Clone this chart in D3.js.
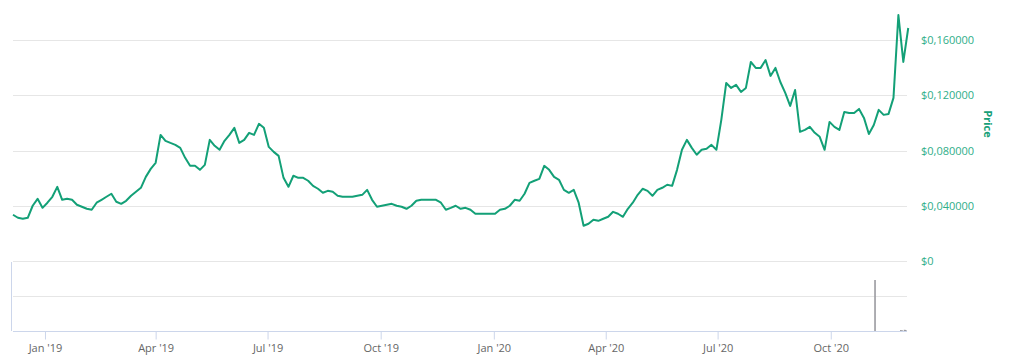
<!DOCTYPE html>
<html>
<head>
<meta charset="utf-8">
<script src="https://cdn.jsdelivr.net/npm/d3@7"></script>
<style>
  body { margin: 0; background: #fff; }
  svg { display: block; font-family: "Open Sans", sans-serif; }
</style>
</head>
<body>
<div id="chart"></div>
<script>
// Price series: one value every 4 days from 6 Dec 2018
const startDate = "2018-12-06";
const stepDays = 4;
const prices = [
  0.0335, 0.0313, 0.0306, 0.0313, 0.0400, 0.0450, 0.0385, 0.0422, 0.0465, 0.0537,
  0.0443, 0.0450, 0.0443, 0.0407, 0.0393, 0.0378, 0.0371, 0.0422, 0.0443, 0.0465,
  0.0487, 0.0429, 0.0414, 0.0436, 0.0472, 0.0501, 0.0530, 0.0609, 0.0667, 0.0711,
  0.0913, 0.0870, 0.0855, 0.0841, 0.0819, 0.0747, 0.0689, 0.0689, 0.0660, 0.0696,
  0.0877, 0.0834, 0.0805, 0.0870, 0.0913, 0.0964, 0.0855, 0.0877, 0.0928, 0.0913,
  0.0993, 0.0964, 0.0826, 0.0790, 0.0761, 0.0602, 0.0537, 0.0617, 0.0602, 0.0602,
  0.0581, 0.0544, 0.0523, 0.0494, 0.0508, 0.0501, 0.0472, 0.0465, 0.0465, 0.0465,
  0.0472, 0.0479, 0.0515, 0.0443, 0.0393, 0.0400, 0.0407, 0.0414, 0.0400, 0.0393,
  0.0378, 0.0400, 0.0436, 0.0443, 0.0443, 0.0443, 0.0443, 0.0422, 0.0371, 0.0385,
  0.0400, 0.0378, 0.0385, 0.0371, 0.0342, 0.0342, 0.0342, 0.0342, 0.0342, 0.0371,
  0.0378, 0.0400, 0.0443, 0.0436, 0.0487, 0.0566, 0.0581, 0.0595, 0.0689, 0.0660,
  0.0609, 0.0588, 0.0515, 0.0494, 0.0515, 0.0422, 0.0255, 0.0270, 0.0299, 0.0291,
  0.0306, 0.0320, 0.0356, 0.0342, 0.0320, 0.0378, 0.0422, 0.0479, 0.0523, 0.0508,
  0.0472, 0.0515, 0.0530, 0.0552, 0.0544, 0.0660, 0.0805, 0.0877, 0.0819, 0.0769,
  0.0805, 0.0812, 0.0841, 0.0805, 0.1022, 0.1289, 0.1253, 0.1275, 0.1224, 0.1253,
  0.1441, 0.1398, 0.1398, 0.1455, 0.1340, 0.1398, 0.1296, 0.1217, 0.1123, 0.1238,
  0.0935, 0.0949, 0.0971, 0.0928, 0.0899, 0.0805, 0.1007, 0.0971, 0.0949, 0.1079,
  0.1072, 0.1072, 0.1101, 0.1036, 0.0920, 0.0985, 0.1094, 0.1058, 0.1065, 0.1181,
  0.1781, 0.1441, 0.1687
];

// Volume bars (lower panel)
const volumeDates = ["2020-11-06", "2020-11-27", "2020-11-28", "2020-11-30", "2020-12-01"];
const volumeValues = [1460000, 30000, 25000, 35000, 30000];

const priceTicks = [0, 0.04, 0.08, 0.12, 0.16];
const volumeTicks = [0, 1000000, 2000000];
const xTickDates = ["2019-01-01", "2019-04-01", "2019-07-01", "2019-10-01",
                    "2020-01-01", "2020-04-01", "2020-07-01", "2020-10-01"];

const width = 1024, height = 355;
const plotLeft = 13, plotRight = 907;
const priceTop = 40, priceBottom = 261;
const volTop = 261, volBottom = 331;

const parse = d3.utcParse("%Y-%m-%d");
const t0 = parse(startDate);
const series = prices.map((p, i) => ({ date: d3.utcDay.offset(t0, i * stepDays), price: p }));

const x = d3.scaleUtc()
  .domain([parse("2018-12-06"), parse("2020-12-02")])
  .range([plotLeft, plotRight]);
const y = d3.scaleLinear().domain([0, 0.16]).range([priceBottom, priceTop]);
const yVol = d3.scaleLinear().domain([0, 2000000]).range([volBottom, volTop]);

const svg = d3.select("#chart").append("svg")
  .attr("width", width).attr("height", height);

// price gridlines
svg.append("g").selectAll("line").data(priceTicks).join("line")
  .attr("x1", plotLeft).attr("x2", plotRight)
  .attr("y1", d => Math.round(y(d)) + 0.5).attr("y2", d => Math.round(y(d)) + 0.5)
  .attr("stroke", "#e6e6e6");

// volume gridlines
svg.append("g").selectAll("line").data(volumeTicks.slice(1)).join("line")
  .attr("x1", plotLeft).attr("x2", plotRight)
  .attr("y1", d => Math.round(yVol(d)) + 0.5).attr("y2", d => Math.round(yVol(d)) + 0.5)
  .attr("stroke", "#e6e6e6");

// left border of volume pane
svg.append("line")
  .attr("x1", 11.5).attr("x2", 11.5).attr("y1", volTop + 1).attr("y2", volBottom)
  .attr("stroke", "#ccd6eb");

// right price axis labels
const fmt = d => d === 0 ? "$0" : "$" + d3.format(".6f")(d).replace(".", ",");
svg.append("g").selectAll("text").data(priceTicks).join("text")
  .attr("x", 921).attr("y", d => y(d) + 4)
  .attr("font-size", 11).attr("fill", "#2fae89")
  .text(fmt);

svg.append("text")
  .attr("transform", "translate(984,124) rotate(90)")
  .attr("text-anchor", "middle")
  .attr("font-size", 11).attr("font-weight", "bold").attr("fill", "#17a078")
  .text("Price");

// volume bars
svg.append("g").selectAll("line").data(volumeDates.map((d, i) => ({ date: parse(d), v: volumeValues[i] })))
  .join("line")
  .attr("x1", d => x(d.date)).attr("x2", d => x(d.date))
  .attr("y1", volBottom).attr("y2", d => yVol(d.v))
  .attr("stroke", "#9a9aa0").attr("stroke-width", 1.6);

// bottom axis
const xAxis = d3.axisBottom(x)
  .tickValues(xTickDates.map(parse))
  .tickSize(8)
  .tickFormat(d3.utcFormat("%b '%y"));
const gx = svg.append("g").attr("transform", `translate(0,${volBottom + 0.5})`).call(xAxis);
gx.select(".domain").attr("d", `M${plotLeft},0H${plotRight}`).attr("stroke", "#ccd6eb");
gx.selectAll(".tick line").attr("stroke", "#ccd6eb");
gx.selectAll(".tick text").attr("font-size", 11).attr("fill", "#666").attr("dy", "0.9em")
  .attr("font-family", "Open Sans, sans-serif");

// price line
const line = d3.line().x(d => x(d.date)).y(d => y(d.price)).curve(d3.curveLinear);
svg.append("path")
  .datum(series)
  .attr("d", line)
  .attr("fill", "none")
  .attr("stroke", "#13a077")
  .attr("stroke-width", 2)
  .attr("stroke-linejoin", "round");
</script>
</body>
</html>
